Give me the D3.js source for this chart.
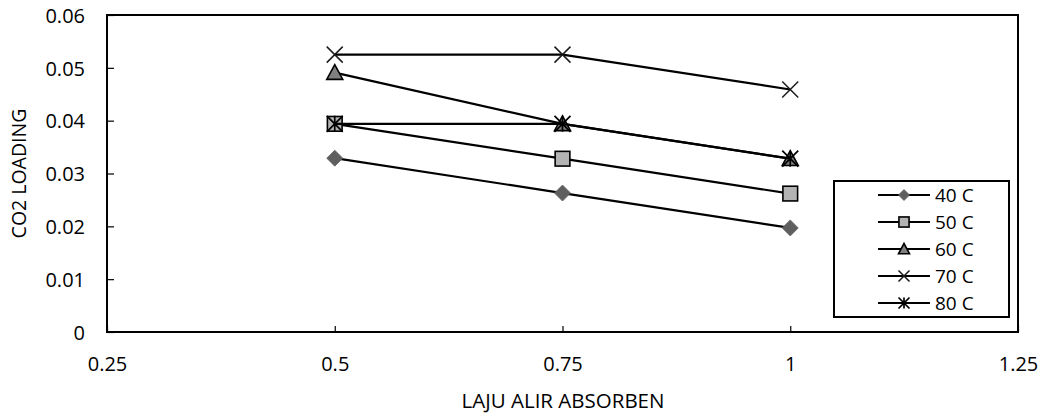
<!DOCTYPE html>
<html>
<head>
<meta charset="utf-8">
<script src="https://cdn.jsdelivr.net/npm/d3@7"></script>
<style>
  html, body { margin: 0; padding: 0; background: #fff; }
  svg { display: block; font-family: "Open Sans", sans-serif; }
</style>
</head>
<body>
<svg id="chart" width="1044" height="414"></svg>
<script>
// Absorbent flow rate (x) and CO2 loading per temperature series
const flowRates = [0.5, 0.75, 1];
const series40 = [0.0329, 0.0263, 0.0197];
const series50 = [0.0394, 0.0328, 0.0262];
const series60 = [0.0491, 0.0394, 0.0328];
const series70 = [0.0525, 0.0525, 0.0459];
const series80 = [0.0394, 0.0394, 0.0328];
const seriesNames = ["40 C", "50 C", "60 C", "70 C", "80 C"];
const xTicks = [0.25, 0.5, 0.75, 1, 1.25];
const yTicks = [0, 0.01, 0.02, 0.03, 0.04, 0.05, 0.06];
const xTitle = "LAJU ALIR ABSORBEN";
const yTitle = "CO2 LOADING";

const seriesList = [series40, series50, series60, series70, series80].map((vals, i) => ({
  name: seriesNames[i],
  points: flowRates.map((x, j) => ({ x, y: vals[j] }))
}));

const svg = d3.select("#chart");
const plotLeft = 107, plotRight = 1018, plotTop = 15, plotBottom = 332;

const x = d3.scaleLinear().domain([0.25, 1.25]).range([plotLeft, plotRight]);
const y = d3.scaleLinear().domain([0, 0.06]).range([plotBottom, plotTop]);

// Plot frame
svg.append("rect")
  .attr("x", plotLeft).attr("y", plotTop)
  .attr("width", plotRight - plotLeft).attr("height", plotBottom - plotTop)
  .attr("fill", "none").attr("stroke", "#000").attr("stroke-width", 2);

// Axes: ticks point inward, labels outside
const fmtX = d => String(d);
const fmtY = d => d === 0 ? "0" : d.toFixed(2);

const xAxis = svg.append("g")
  .attr("transform", `translate(0,${plotBottom})`)
  .call(d3.axisBottom(x).tickValues(xTicks).tickFormat(fmtX).tickSizeInner(-6).tickSizeOuter(0).tickPadding(0));
xAxis.select(".domain").remove();
xAxis.selectAll(".tick line").attr("stroke", "#000").attr("stroke-width", 1.2);
xAxis.selectAll(".tick text")
  .attr("y", 39).attr("dy", null)
  .attr("font-size", 20).attr("font-family", "Open Sans").attr("fill", "#000");

const yAxis = svg.append("g")
  .attr("transform", `translate(${plotLeft},0)`)
  .call(d3.axisLeft(y).tickValues(yTicks).tickFormat(fmtY).tickSizeInner(-7).tickSizeOuter(0).tickPadding(0));
yAxis.select(".domain").remove();
yAxis.selectAll(".tick line").attr("stroke", "#000").attr("stroke-width", 1.2);
yAxis.selectAll(".tick text")
  .attr("x", -22).attr("dy", "0.36em")
  .attr("font-size", 20).attr("font-family", "Open Sans").attr("fill", "#000");

// Axis titles
svg.append("text")
  .attr("x", 563).attr("y", 408)
  .attr("text-anchor", "middle")
  .attr("font-size", 20.5).attr("fill", "#000")
  .text(xTitle);

svg.append("text")
  .attr("transform", `translate(26,${y(0.03)}) rotate(-90)`)
  .attr("text-anchor", "middle")
  .attr("font-size", 19.5).attr("fill", "#000")
  .text(yTitle);

// Marker shapes
function drawMarker(g, idx, cx, cy, s) {
  const h = s / 2;
  if (idx === 0) {
    g.append("path")
      .attr("d", `M${cx},${cy - h} L${cx + h},${cy} L${cx},${cy + h} L${cx - h},${cy} Z`)
      .attr("fill", "#5f5f5f").attr("stroke", "#5f5f5f").attr("stroke-width", 0.8);
  } else if (idx === 1) {
    const q = h * 0.92;
    g.append("rect")
      .attr("x", cx - q).attr("y", cy - q).attr("width", 2 * q).attr("height", 2 * q)
      .attr("fill", "#b3b3b3").attr("stroke", "#000").attr("stroke-width", 1.6);
  } else if (idx === 2) {
    g.append("path")
      .attr("d", `M${cx},${cy - h} L${cx + h},${cy + h * 0.85} L${cx - h},${cy + h * 0.85} Z`)
      .attr("fill", "#7f7f7f").attr("stroke", "#000").attr("stroke-width", 1.6).attr("stroke-linejoin", "miter");
  } else if (idx === 3) {
    g.append("path")
      .attr("d", `M${cx - h},${cy - h} L${cx + h},${cy + h} M${cx - h},${cy + h} L${cx + h},${cy - h}`)
      .attr("stroke", "#1a1a1a").attr("stroke-width", 1.5).attr("fill", "none");
  } else {
    g.append("path")
      .attr("d", `M${cx - h},${cy - h} L${cx + h},${cy + h} M${cx - h},${cy + h} L${cx + h},${cy - h} M${cx},${cy - h} L${cx},${cy + h}`)
      .attr("stroke", "#000").attr("stroke-width", 1.7).attr("fill", "none");
  }
}

const line = d3.line().x(d => x(d.x)).y(d => y(d.y));

// Series lines and markers, drawn in order
seriesList.forEach((s, i) => {
  const g = svg.append("g");
  g.append("path")
    .attr("d", line(s.points))
    .attr("fill", "none").attr("stroke", "#000").attr("stroke-width", 2.2);
  s.points.forEach(p => drawMarker(g, i, x(p.x), y(p.y), 16));
});

// Legend
const legend = svg.append("g");
legend.append("rect")
  .attr("x", 834).attr("y", 181).attr("width", 175).attr("height", 136)
  .attr("fill", "#fff").attr("stroke", "#000").attr("stroke-width", 2);

seriesList.forEach((s, i) => {
  const ly = 195 + i * 27;
  const row = legend.append("g");
  row.append("line")
    .attr("x1", 878).attr("x2", 930).attr("y1", ly).attr("y2", ly)
    .attr("stroke", "#000").attr("stroke-width", 2);
  drawMarker(row, i, 904, ly, 11);
  row.append("text")
    .attr("x", 935).attr("y", ly).attr("dy", "0.36em")
    .attr("font-size", 19).attr("fill", "#000")
    .text(s.name);
});
</script>
</body>
</html>
